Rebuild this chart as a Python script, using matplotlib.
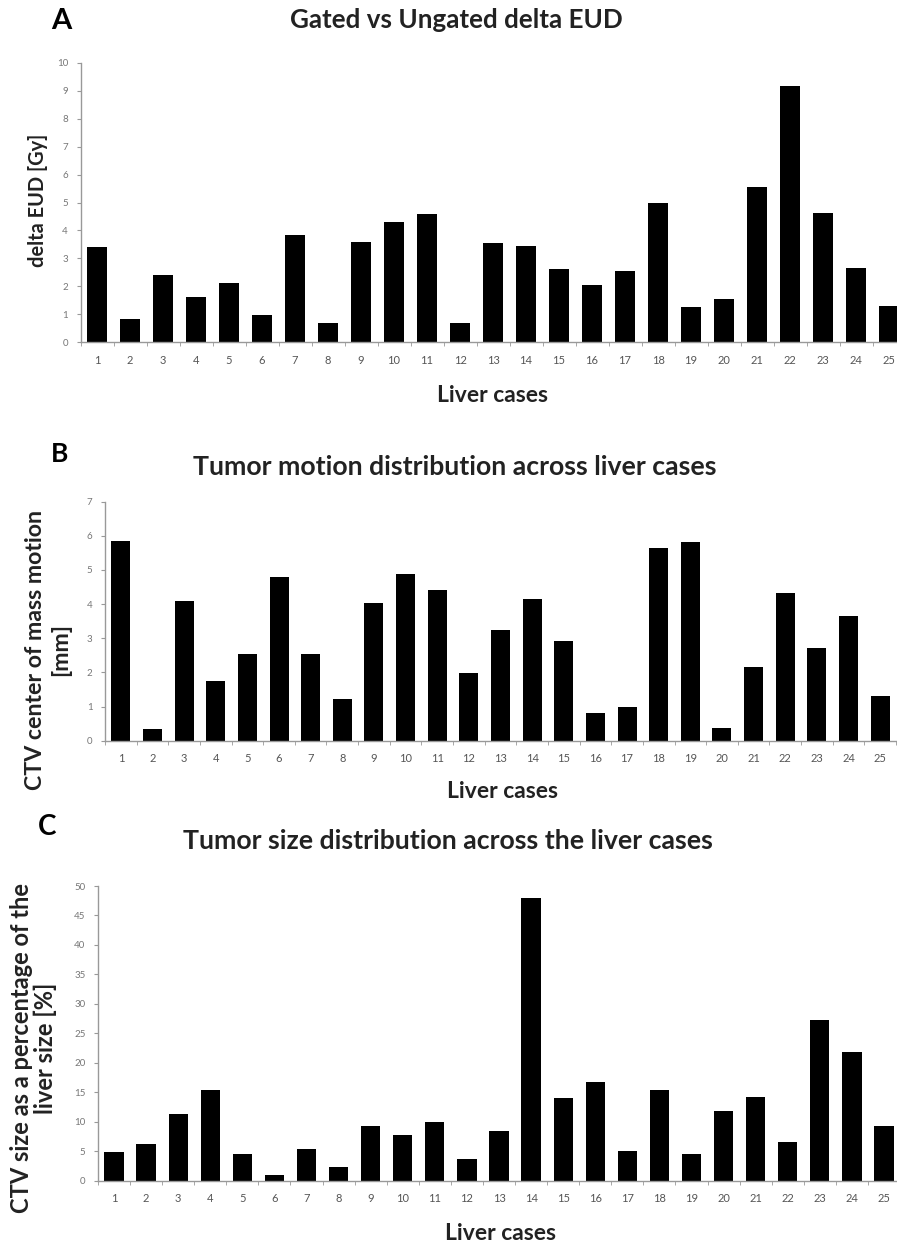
import numpy as np
import matplotlib.pyplot as plt

plt.rcParams['font.family'] = ['Lato', 'DejaVu Sans']

# Datos
cases = np.arange(1, 26)
delta_eud = [3.42, 0.82, 2.40, 1.60, 2.13, 0.96, 3.84, 0.68, 3.57, 4.30,
             4.60, 0.68, 3.55, 3.45, 2.63, 2.06, 2.54, 4.98, 1.27, 1.54,
             5.54, 9.17, 4.62, 2.67, 1.29]
motion = [5.86, 0.34, 4.09, 1.75, 2.54, 4.78, 2.54, 1.21, 4.04, 4.88,
          4.41, 1.97, 3.24, 4.16, 2.93, 0.82, 0.98, 5.64, 5.81, 0.36,
          2.17, 4.32, 2.71, 3.65, 1.32]
size_pct = [4.9, 6.3, 11.3, 15.4, 4.5, 0.96, 5.4, 2.4, 9.2, 7.7,
            10.0, 3.6, 8.5, 47.9, 14.0, 16.7, 5.0, 15.4, 4.6, 11.8,
            14.2, 6.5, 27.3, 21.9, 9.2]

W, H = 897, 1247
fig = plt.figure(figsize=(W / 100, H / 100), dpi=100)


def px_axes(left, right, top, bottom):
    return fig.add_axes([left / W, 1 - bottom / H, (right - left) / W, (bottom - top) / H])


def style(ax, values, ymax, step):
    ax.bar(cases, values, width=0.6, color='black')
    ax.set_xlim(0.5, 25.5)
    ax.set_ylim(0, ymax)
    ax.set_yticks(np.arange(0, ymax + step / 2, step))
    ax.set_xticks(cases)
    ax.set_xticks(np.arange(0.5, 26, 1), minor=True)
    ax.tick_params(axis='x', which='major', length=0, pad=9, labelsize=8, labelcolor='#555555')
    ax.tick_params(axis='x', which='minor', length=3, color='#999999', direction='out')
    ax.tick_params(axis='y', length=3, color='#999999', labelsize=7, labelcolor='#777777', pad=6)
    for s in ['top', 'right']:
        ax.spines[s].set_visible(False)
    for s in ['left', 'bottom']:
        ax.spines[s].set_color('#999999')
        ax.spines[s].set_linewidth(1.0)


# Panel A
axA = px_axes(80.5, 905.5, 63, 342)
style(axA, delta_eud, 10, 1)
fig.text(456 / W, 1 - 20 / H, 'Gated vs Ungated delta EUD', ha='center', va='center',
         fontsize=18.7, fontweight='bold', color='#222222')
fig.text(61 / W, 1 - 21 / H, 'A', ha='center', va='center', fontsize=21, fontweight='bold')
fig.text(38 / W, 1 - 200 / H, 'delta EUD [Gy]', ha='center', va='center', rotation=90,
         fontsize=14.4, fontweight='bold', color='#222222')
fig.text(492 / W, 1 - 395 / H, 'Liver cases', ha='center', va='center',
         fontsize=16.5, fontweight='bold', color='#222222')

# Panel B
axB = px_axes(105, 896, 501.7, 740.7)
style(axB, motion, 7, 1)
fig.text(455 / W, 1 - 467 / H, 'Tumor motion distribution across liver cases', ha='center',
         va='center', fontsize=19.2, fontweight='bold', color='#222222')
fig.text(60 / W, 1 - 454 / H, 'B', ha='center', va='center', fontsize=19, fontweight='bold')
fig.text(48 / W, 1 - 650 / H, 'CTV center of mass motion\n[mm]', ha='center', va='center',
         rotation=90, multialignment='center', fontsize=16.7, fontweight='bold',
         color='#222222', linespacing=1.2)
fig.text(502 / W, 1 - 792 / H, 'Liver cases', ha='center', va='center',
         fontsize=16.5, fontweight='bold', color='#222222')

# Panel C
axC = px_axes(98, 900, 886, 1180.7)
style(axC, size_pct, 50, 5)
fig.text(448 / W, 1 - 841 / H, 'Tumor size distribution across the liver cases', ha='center',
         va='center', fontsize=19.2, fontweight='bold', color='#222222')
fig.text(47 / W, 1 - 827 / H, 'C', ha='center', va='center', fontsize=20, fontweight='bold')
fig.text(33.5 / W, 1 - 1048 / H, 'CTV size as a percentage of the\nliver size [%]', ha='center',
         va='center', rotation=90, multialignment='center', fontsize=17, fontweight='bold',
         color='#222222', linespacing=1.05)
fig.text(500 / W, 1 - 1233 / H, 'Liver cases', ha='center', va='center',
         fontsize=16.5, fontweight='bold', color='#222222')

fig.savefig('out.png', dpi=100)
